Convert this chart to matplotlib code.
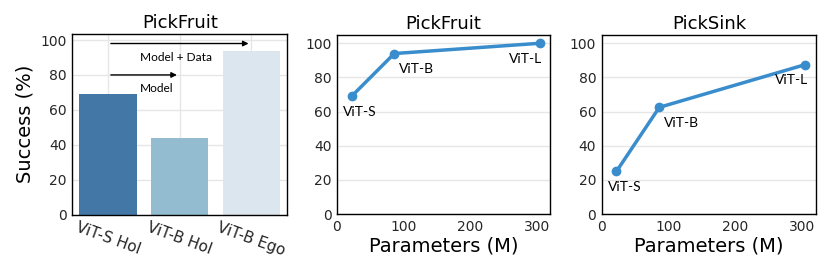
import matplotlib
matplotlib.use("Agg")
from matplotlib import pyplot as plt

# bar panel
bar_labels = ["ViT-S Hol", "ViT-B Hol", "ViT-B Ego"]
bar_values = [69, 44, 94]
bar_colors = ["#4378a6", "#93bcd1", "#dce6ee"]

# scaling panels
model_names = ["ViT-S", "ViT-B", "ViT-L"]
model_params = [22, 86, 304]
pickfruit_success = [69, 94, 100]
picksink_success = [25, 62.5, 87.5]

line_color = "#3a8dcc"
grid_color = "#e6e6e6"
tick_color = "#262626"

fig = plt.figure(figsize=(8.3, 2.78), dpi=100)
ax1 = fig.add_axes([0.087, 0.228, 0.259, 0.650])
ax2 = fig.add_axes([0.406, 0.230, 0.257, 0.645])
ax3 = fig.add_axes([0.725, 0.230, 0.258, 0.645])

for ax in (ax1, ax2, ax3):
    ax.set_axisbelow(True)
    ax.tick_params(length=0, labelsize=10, colors=tick_color, pad=4)
    for s in ax.spines.values():
        s.set_color("black")
        s.set_linewidth(1.0)

# left: bar chart
xs = list(range(len(bar_labels)))
ax1.bar(xs, bar_values, width=0.8, color=bar_colors)
ax1.set_xlim(-0.5, 2.5)
ax1.set_ylim(0, 103.5)
ax1.set_yticks([0, 20, 40, 60, 80, 100])
ax1.set_xticks(xs)
ax1.set_xticklabels(bar_labels, rotation=-20, ha="center", fontsize=11)
ax1.grid(True, color=grid_color, linewidth=1)
ax1.set_title("PickFruit", fontsize=13, pad=4)
ax1.set_ylabel("Success (%)", fontsize=14)

ax1.annotate("", xy=(2, 98), xytext=(0, 98),
             arrowprops=dict(arrowstyle="-|>", color="black", lw=1, mutation_scale=8))
ax1.annotate("", xy=(1, 80), xytext=(0, 80),
             arrowprops=dict(arrowstyle="-|>", color="black", lw=1, mutation_scale=8))
ax1.text(0.45, 90, "Model + Data", fontsize=8.6, family="Lato", ha="left", va="center")
ax1.text(0.45, 72.5, "Model", fontsize=8.6, family="Lato", ha="left", va="center")


def scaling_panel(ax, title, values, offsets):
    ax.plot(model_params, values, color=line_color, linewidth=2.5,
            marker="o", markersize=6)
    for name, x, y, off in zip(model_names, model_params, values, offsets):
        ax.annotate(name, (x, y), xytext=off, textcoords="offset points",
                    fontsize=10, family="Lato", ha="center", va="top")
    ax.set_xlim(0, 320)
    ax.set_ylim(0, 105)
    ax.set_xticks([0, 100, 200, 300])
    ax.set_yticks([0, 20, 40, 60, 80, 100])
    ax.grid(True, axis="y", color=grid_color, linewidth=1)
    ax.set_title(title, fontsize=13, pad=4)
    ax.set_xlabel("Parameters (M)", fontsize=14, labelpad=2)


scaling_panel(ax2, "PickFruit", pickfruit_success, [(6, -7), (16, -7), (-10, -7)])
scaling_panel(ax3, "PickSink", picksink_success, [(6, -7), (16, -7), (-10, -7)])

fig.savefig("out.png", dpi=100)
